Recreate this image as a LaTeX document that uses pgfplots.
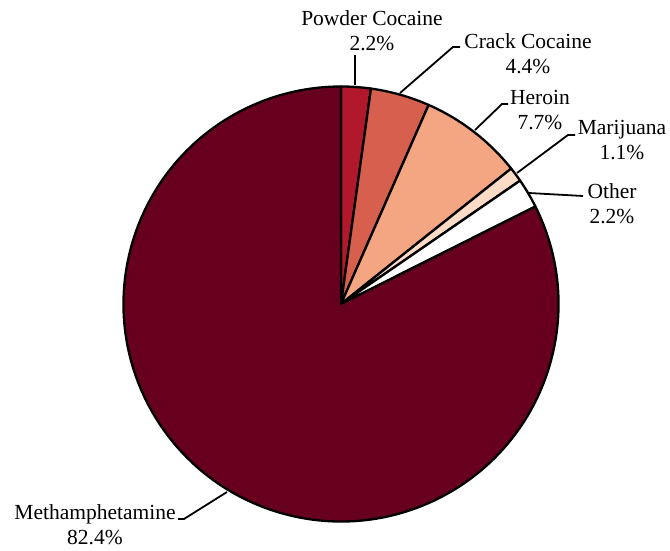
\documentclass[border=0pt]{standalone}
\usepackage{fontspec}
\setmainfont{Liberation Serif}
\usepackage{pgfplots}
\usepackage{pgfplotstable}
\pgfplotsset{compat=1.18}
\definecolor{meth}{HTML}{67001F}
\definecolor{powder}{HTML}{B2182B}
\definecolor{crack}{HTML}{D6604D}
\definecolor{heroin}{HTML}{F4A582}
\definecolor{marij}{HTML}{FDDBC7}
\definecolor{other}{HTML}{FFFFFF}
\tikzset{lbl/.style={font=\fontsize{21.5}{25}\selectfont, align=center, inner sep=0pt}}

% share of cases by drug type, clockwise from 12 o'clock
\pgfplotstableread{
label value col
Powder 2.2 powder
Crack 4.4 crack
Heroin 7.7 heroin
Marijuana 1.1 marij
Other 2.2 other
Meth 82.4 meth
}\piedata

\begin{document}
\begin{tikzpicture}
\begin{axis}[
    width=670pt, height=550pt,
    scale only axis,
    xmin=0, xmax=670, ymin=0, ymax=550,
    hide axis,
    clip=false,
]
\pgfplotstablegetrowsof{\piedata}
\pgfmathtruncatemacro\nrows{\pgfplotsretval-1}
\def\cum{0}
\pgfplotsforeachungrouped \i in {0,...,\nrows}{%
  \pgfplotstablegetelem{\i}{value}\of\piedata
  \let\v\pgfplotsretval
  \pgfplotstablegetelem{\i}{col}\of\piedata
  \let\c\pgfplotsretval
  \pgfmathsetmacro\a{90-3.6*\cum}
  \pgfmathsetmacro\b{90-3.6*(\cum+\v)}
  \edef\wedge{\noexpand\filldraw[fill=\c, draw=black, line width=2.3pt, line join=round]
    (axis cs:341,246) -- ++(\a:217.5pt) arc[start angle=\a, end angle=\b, radius=217.5pt] -- cycle;}
  \wedge
  \pgfmathsetmacro\cum{\cum+\v}
}

% leader lines
\begin{scope}[line width=1.8pt]
\draw (axis cs:355,465) -- (axis cs:355,495);
\draw (axis cs:400,457) -- (axis cs:453,503) -- (axis cs:460,503);
\draw (axis cs:475,420) -- (axis cs:502,446) -- (axis cs:508,446);
\draw (axis cs:517,377) -- (axis cs:568,415) -- (axis cs:575,415);
\draw (axis cs:529,357) -- (axis cs:583,354);
\draw (axis cs:227,58) -- (axis cs:184,31) -- (axis cs:178,31);
\end{scope}

% labels
\node[lbl] at (axis cs:372,519.5) {Powder Cocaine\\2.2\%};
\node[lbl] at (axis cs:528,496.5) {Crack Cocaine\\4.4\%};
\node[lbl] at (axis cs:540,439.5) {Heroin\\7.7\%};
\node[lbl] at (axis cs:622,409.5) {Marijuana\\1.1\%};
\node[lbl] at (axis cs:612,346.5) {Other\\2.2\%};
\node[lbl] at (axis cs:95,25.5) {Methamphetamine\\82.4\%};
\end{axis}
\pgfresetboundingbox
\path (current axis.south west) rectangle (current axis.north east);
\end{tikzpicture}
\end{document}
